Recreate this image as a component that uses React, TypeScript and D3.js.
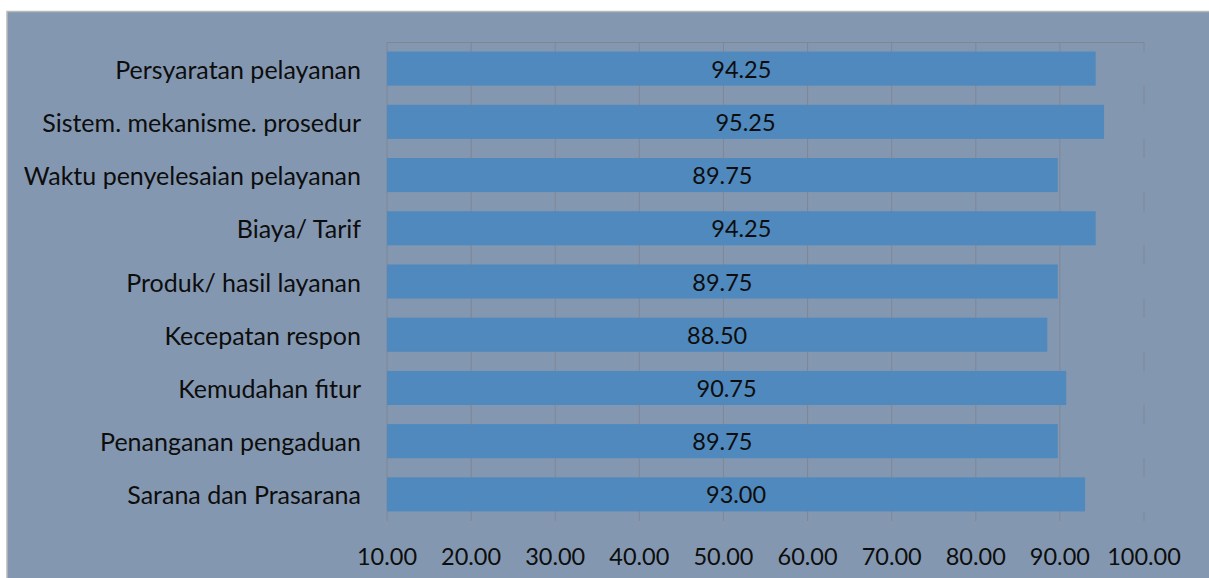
import React from "react";
import * as d3 from "d3";

const categories = [
  "Persyaratan pelayanan",
  "Sistem. mekanisme. prosedur",
  "Waktu penyelesaian pelayanan",
  "Biaya/ Tarif",
  "Produk/ hasil layanan",
  "Kecepatan respon",
  "Kemudahan fitur",
  "Penanganan pengaduan",
  "Sarana dan Prasarana",
];
const values = [94.25, 95.25, 89.75, 94.25, 89.75, 88.5, 90.75, 89.75, 93.0];
const ticks = [10, 20, 30, 40, 50, 60, 70, 80, 90, 100];

const W = 1209;
const H = 578;
const FONT = "Lato, 'Open Sans', sans-serif";

export default function App() {
  const left = 387;
  const right = 1144;
  const top = 42;
  const bottom = 521;
  const x = d3.scaleLinear().domain([10, 100]).range([left, right]);
  const y = d3
    .scaleBand<string>()
    .domain(categories)
    .range([top, bottom])
    .paddingInner(0.36)
    .paddingOuter(0.18);
  const bw = y.bandwidth();
  const grid = "#7f8794";

  return (
    <svg
      width={W}
      height={H}
      style={{ position: "absolute", left: 0, top: 0 }}
      fontFamily={FONT}
    >
      <rect x={0} y={0} width={W} height={H} fill="#ffffff" />
      <rect x={7} y={11.5} width={W + 10} height={H + 10} fill="#8497B0" stroke="#b9b9b9" strokeWidth={1.5} />
      <line x1={left} x2={right} y1={top + 0.5} y2={top + 0.5} stroke={grid} strokeWidth={1} />
      {ticks.map((t, i) =>
        i === ticks.length - 1 ? (
          <g key={t}>
            {categories.map((c, j) => {
              const yStart = j === 0 ? top : (y(categories[j - 1]) as number) + bw;
              const yEnd = y(c) as number;
              return (
                <line key={c} x1={x(t)} x2={x(t)} y1={yStart} y2={yEnd} stroke={grid} strokeWidth={1} />
              );
            })}
            <line
              x1={x(t)}
              x2={x(t)}
              y1={(y(categories[categories.length - 1]) as number) + bw}
              y2={bottom}
              stroke={grid}
              strokeWidth={1}
            />
          </g>
        ) : (
          <line key={t} x1={x(t)} x2={x(t)} y1={top} y2={bottom} stroke={grid} strokeWidth={1} />
        )
      )}
      {categories.map((c, i) => (
        <rect
          key={c}
          x={x(10)}
          y={y(c)}
          width={x(values[i]) - x(10)}
          height={bw}
          fill="#4F89BE"
        />
      ))}
      {categories.map((c, i) => (
        <text
          key={c}
          x={(x(10) + x(values[i])) / 2}
          y={(y(c) as number) + bw / 2}
          textAnchor="middle"
          dominantBaseline="central"
          fontSize={23.5}
          fill="#0d0d0d"
        >
          {values[i].toFixed(2)}
        </text>
      ))}
      {categories.map((c) => (
        <text
          key={c}
          x={361}
          y={(y(c) as number) + bw / 2}
          textAnchor="end"
          dominantBaseline="central"
          fontSize={25}
          fill="#0d0d0d"
        >
          {c}
        </text>
      ))}
      {ticks.map((t) => (
        <text
          key={t}
          x={x(t)}
          y={556}
          textAnchor="middle"
          dominantBaseline="central"
          fontSize={23.5}
          fill="#0d0d0d"
        >
          {t.toFixed(2)}
        </text>
      ))}
    </svg>
  );
}
